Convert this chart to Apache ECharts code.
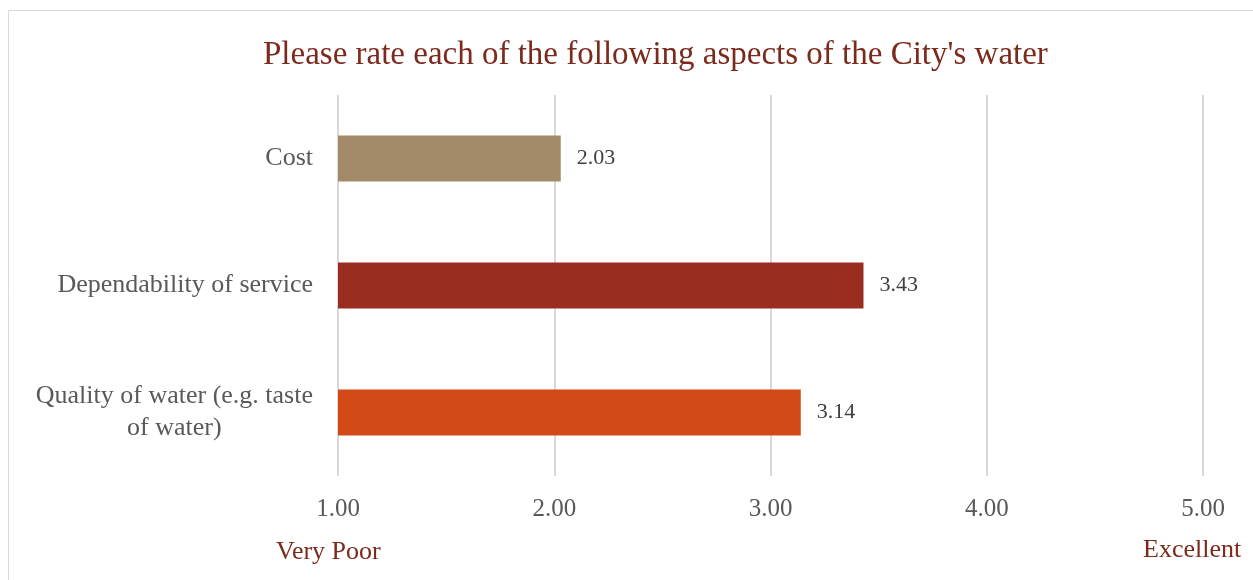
<!DOCTYPE html>
<html>
<head>
<meta charset="utf-8">
<script src="https://cdn.jsdelivr.net/npm/echarts@6/dist/echarts.min.js"></script>
<style>
  html, body { margin: 0; padding: 0; background: #fff; }
  #chart { width: 1253px; height: 580px; }
</style>
</head>
<body>
<div id="chart"></div>
<script>
const titleText = "Please rate each of the following aspects of the City's water";
const categories = ['Cost', 'Dependability of service', 'Quality of water (e.g. taste of water)'];
const ratings = [2.03, 3.43, 3.14];
const barColors = ['#a38b69', '#992d1f', '#d24a18'];
const tickValues = [1, 2, 3, 4, 5];
const scaleEnds = ['Very Poor', 'Excellent'];

const FONT = "'Liberation Serif', 'DejaVu Serif', serif";
const RED = '#7b2a1c';

// wrap long category names onto centred lines
function wrap(name, maxChars) {
  const words = name.split(' ');
  const lines = [];
  let cur = '';
  words.forEach(w => {
    const next = cur ? cur + ' ' + w : w;
    if (next.length > maxChars && cur) { lines.push(cur); cur = w; }
    else cur = next;
  });
  if (cur) lines.push(cur);
  return lines.map(l => '{c|' + l + '}').join('\n');
}

const chart = echarts.init(document.getElementById('chart'));
chart.setOption({
  backgroundColor: '#fff',
  animation: false,
  title: {
    text: titleText,
    left: 258,
    top: 34,
    textStyle: { fontFamily: FONT, fontSize: 33, fontWeight: 'normal', color: RED }
  },
  grid: { left: 338, right: 50, top: 95, bottom: 104 },
  xAxis: {
    type: 'value',
    min: tickValues[0],
    max: tickValues[tickValues.length - 1],
    interval: 1,
    axisLine: { show: false },
    axisTick: { show: false },
    splitLine: { lineStyle: { color: '#d9d9d9', width: 2 } },
    axisLabel: {
      margin: 21,
      fontFamily: FONT, fontSize: 25, color: '#595959',
      formatter: v => v.toFixed(2)
    }
  },
  yAxis: {
    type: 'category',
    inverse: true,
    data: categories,
    axisLine: { show: false },
    axisTick: { show: false },
    axisLabel: {
      margin: 25,
      fontFamily: FONT, fontSize: 26, color: '#595959', lineHeight: 32,
      formatter: name => wrap(name, 28),
      rich: { c: { align: 'center', fontFamily: FONT, fontSize: 26, color: '#595959', lineHeight: 32 } }
    }
  },
  series: [{
    type: 'bar',
    barWidth: 46,
    data: ratings.map((v, i) => ({ value: v, itemStyle: { color: barColors[i] } })),
    label: {
      show: true,
      position: 'right',
      distance: 16,
      fontFamily: FONT, fontSize: 22, color: '#404040',
      formatter: p => p.value.toFixed(2)
    }
  }],
  graphic: [
    { type: 'rect', shape: { x: 8.5, y: 10.5, width: 1300, height: 650 },
      style: { fill: null, stroke: '#d9d9d9', lineWidth: 1 }, silent: true },
    { type: 'text', left: 276, top: 539,
      style: { text: scaleEnds[0], fontFamily: FONT, fontSize: 26, fill: RED } },
    { type: 'text', left: 1143, top: 537,
      style: { text: scaleEnds[1], fontFamily: FONT, fontSize: 26, fill: RED } }
  ]
});
</script>
</body>
</html>
